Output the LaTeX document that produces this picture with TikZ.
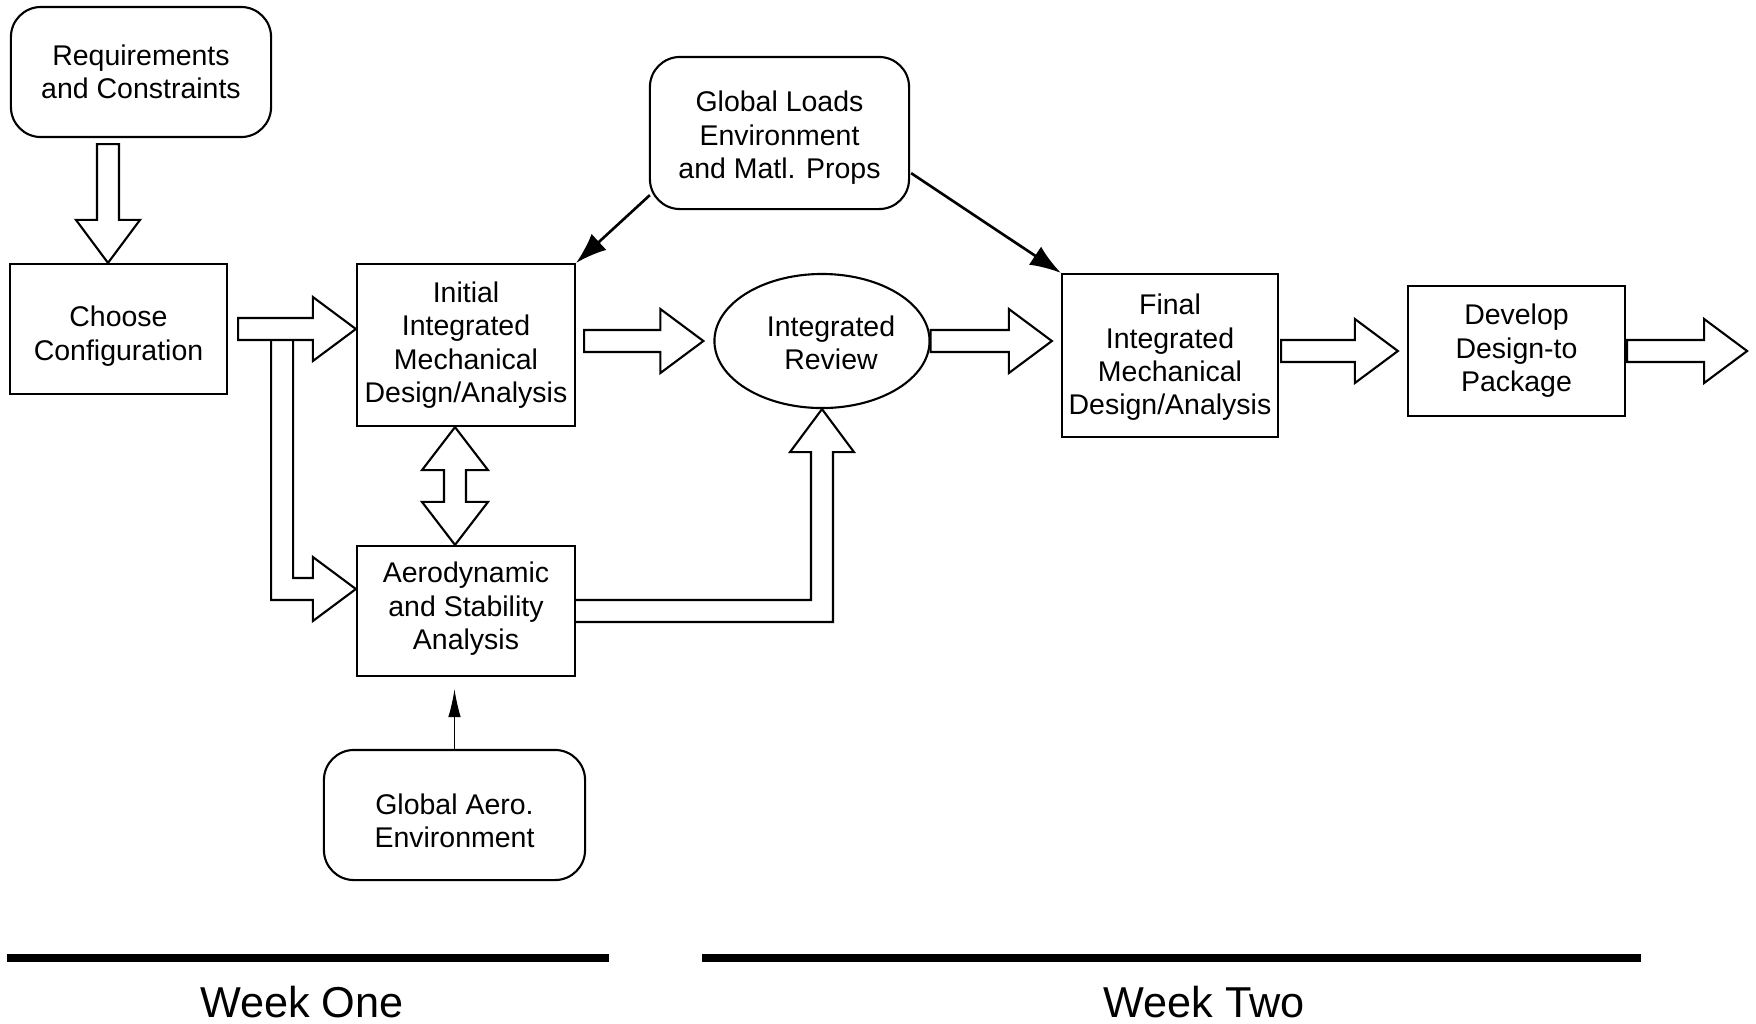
\documentclass[tikz,border=0pt]{standalone}
\usepackage{fontspec}
\setmainfont{Liberation Sans}
\usetikzlibrary{shapes.geometric,arrows.meta,calc}

% Hollow block arrow pointing right: #1 tail point, #2 tip (same height)
\newcommand\hblockarrow[2]{%
  \draw[blk] ($(#1)+(0,-11)$) -- ($(#2)+(-43,-11)$) -- ($(#2)+(-43,-32)$) -- (#2)
    -- ($(#2)+(-43,32)$) -- ($(#2)+(-43,11)$) -- ($(#1)+(0,11)$) -- cycle;}
% Hollow block arrow pointing down: #1 tail point, #2 tip (same column)
\newcommand\vblockarrow[2]{%
  \draw[blk] ($(#1)+(-11,0)$) -- ($(#2)+(-11,-43)$) -- ($(#2)+(-32,-43)$) -- (#2)
    -- ($(#2)+(32,-43)$) -- ($(#2)+(11,-43)$) -- ($(#1)+(11,0)$) -- cycle;}

\begin{document}
\begin{tikzpicture}[x=0.01cm,y=-0.01cm,
  every node/.style={font=\fontsize{8.1pt}{9.5pt}\selectfont, align=center, inner sep=0pt},
  procbox/.style={draw, line width=0.6pt, rectangle},
  softbox/.style={draw, line width=0.6pt, rounded corners=0.3cm},
  blk/.style={draw, line width=0.6pt, fill=white, line join=miter},
  blkline/.style={draw, line width=0.6pt, line join=miter},
  feed/.style={line width=0.75pt, -{Latex[length=8.8pt,width=6.2pt]}},
  thinfeed/.style={line width=0.35pt, -{Latex[length=8pt,width=3.6pt]}},
  weekbar/.style={line width=0.08cm},
  weeklabel/.style={font=\fontsize{12.3pt}{14pt}\selectfont, anchor=base}]

\useasboundingbox (0,0) rectangle (1756,1023);

% Process boxes and inputs
\node[softbox, minimum width=2.60cm, minimum height=1.30cm] (req) at (141,72) {Requirements\\and Constraints};
\node[procbox, minimum width=2.17cm, minimum height=1.30cm,
  label={[yshift=-0.07cm]center:{Choose\\Configuration}}] (choose) at (118.5,329) {};
\node[procbox, minimum width=2.18cm, minimum height=1.62cm] (init) at (466,345) {Initial\\Integrated\\Mechanical\\Design/Analysis};
\node[procbox, minimum width=2.18cm, minimum height=1.30cm,
  label={[yshift=0.02cm]center:{Aerodynamic\\and Stability\\Analysis}}] (aero) at (466,611) {};
\node[draw, ellipse, line width=0.6pt, minimum width=2.15cm, minimum height=1.34cm,
  label={[xshift=0.09cm,yshift=-0.02cm]center:{Integrated\\Review}}] (review) at (822,341) {};
\node[softbox, minimum width=2.59cm, minimum height=1.52cm,
  label={[yshift=-0.05cm]center:{Global Loads\\Environment\\and Matl. Props}}] (loads) at (779.5,133) {};
\node[procbox, minimum width=2.16cm, minimum height=1.63cm,
  label={[yshift=-0.02cm]center:{Final\\Integrated\\Mechanical\\Design/Analysis}}] (final) at (1170,355.5) {};
\node[procbox, minimum width=2.17cm, minimum height=1.30cm] (dev) at (1516.5,351) {Develop\\Design-to\\Package};
\node[softbox, minimum width=2.61cm, minimum height=1.30cm,
  label={[yshift=-0.06cm]center:{Global Aero.\\Environment}}] (gaero) at (454.5,815) {};

% Requirements -> Choose Configuration
\coordinate (r0) at ($(req.south)+(-33,6)$);
\coordinate (r1) at (r0 |- choose.north);
\vblockarrow{r0}{r1}

% Choose Configuration -> Initial design, with branch to aerodynamics
\coordinate (c0) at ($(choose.east)+(10,0)$);
\coordinate (c1) at (init.west |- choose.east);
\coordinate (c2) at ($(aero.west)+(0,-22)$);
\hblockarrow{c0}{c1}
\draw[blkline] ($(c0)+(33,11)$) -- ($(c0 |- c2)+(33,11)$) -- ($(c2)+(-43,11)$) -- ($(c2)+(-43,32)$)
  -- (c2) -- ($(c2)+(-43,-32)$) -- ($(c2)+(-43,-11)$) -- ($(c0 |- c2)+(55,-11)$) -- ($(c0)+(55,11)$);

% Initial design <-> aerodynamics
\coordinate (d0) at ($(init.south)+(-11,0)$);
\coordinate (d1) at (d0 |- aero.north);
\draw[blk] (d0) -- ($(d0)+(33,43)$) -- ($(d0)+(11,43)$) -- ($(d1)+(11,-43)$) -- ($(d1)+(33,-43)$)
  -- (d1) -- ($(d1)+(-33,-43)$) -- ($(d1)+(-11,-43)$) -- ($(d0)+(-11,43)$) -- ($(d0)+(-33,43)$) -- cycle;

% Aerodynamics -> Integrated Review
\coordinate (e0) at (aero.east);
\coordinate (e1) at (review.south);
\draw[blkline] ($(e0)+(0,-11)$) -- ($(e1 |- e0)+(-11,-11)$) -- ($(e1)+(-11,43)$) -- ($(e1)+(-32,43)$)
  -- (e1) -- ($(e1)+(32,43)$) -- ($(e1)+(11,43)$) -- ($(e1 |- e0)+(11,11)$) -- ($(e0)+(0,11)$);

% Main flow
\coordinate (f0) at ($(init.east |- review.west)+(8,0)$);
\coordinate (f1) at ($(review.west)+(-10,0)$);
\hblockarrow{f0}{f1}
\coordinate (g0) at (review.east);
\coordinate (g1) at ($(final.west |- review.east)+(-9,0)$);
\hblockarrow{g0}{g1}
\coordinate (h0) at ($(final.east |- dev.west)+(2,0)$);
\coordinate (h1) at ($(dev.west)+(-9,0)$);
\hblockarrow{h0}{h1}
\coordinate (k0) at ($(dev.east)+(1,0)$);
\coordinate (k1) at ($(dev.east)+(121,0)$);
\hblockarrow{k0}{k1}

% Environment inputs
\draw[feed] ($(loads.south west)+(1,-15)$) -- (init.north east);
\draw[feed] ($(loads.south east)+(1,-37)$) -- (final.north west);
\draw[thinfeed, shorten >=0.12cm] (gaero.north) -- (gaero.north |- aero.south);

% Schedule
\draw[weekbar] (7,958) -- (609,958);
\draw[weekbar] (702,958) -- (1641,958);
\node[weeklabel] (w1) at (302,1017) {Week One};
\node[weeklabel] (w2) at (1204,1017) {Week Two};
\end{tikzpicture}
\end{document}
